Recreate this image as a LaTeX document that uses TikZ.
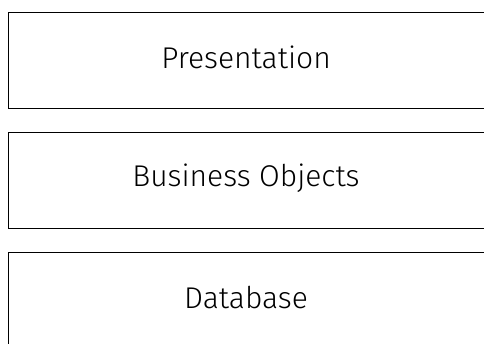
\documentclass[tikz,border=0pt]{standalone}
\usepackage{fontspec}
\setmainfont{Fira Sans}[UprightFont=* Light]
\begin{document}
\begin{tikzpicture}[x=1pt,y=1pt,yscale=-1,xscale=1,
    layer/.style={draw, line width=0.9pt, anchor=north west, minimum width=500pt, minimum height=96pt, inner sep=0pt},
    layertext/.style={font=\fontsize{30}{34}\selectfont, inner sep=0pt}]
    \useasboundingbox (0,0) rectangle (484,343);
    \clip (0,0) rectangle (484,343);
    
    % Boxes
    \node [layer] (pres) at (8,12) {};
    \node [layer] (bo) at (8,132) {};
    \node [layer] (db) at (8,252) {};
    
    % Text Node
    \node [layertext] (prestext) at (246,57) {Presentation};
    % Text Node
    \node [layertext] (botext) at (246,178) {Business Objects};
    % Text Node
    \node [layertext] (dbtext) at (246,298) {Database};
    
\end{tikzpicture}
\end{document}
